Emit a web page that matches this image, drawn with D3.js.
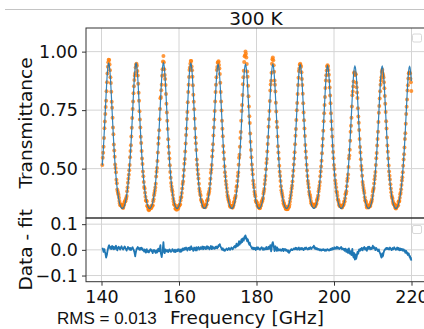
<!DOCTYPE html>
<html>
<head>
<meta charset="utf-8">
<script src="https://cdn.jsdelivr.net/npm/d3@7"></script>
<style>
  body { margin: 0; background: #fff; }
  text { font-family: "DejaVu Sans", sans-serif; fill: #111; }
  text.rms { font-family: "Liberation Sans", Arial, sans-serif; }
</style>
</head>
<body>
<div id="chart"></div>
<script>
'use strict';

// Measurement grid (uniform sweep)
const freqStart = 140.2055;
const freqStep = 0.1103;

// Fitted transmittance, one value per sample (one line per fringe)
const fit = [
  0.514,0.541,0.570,0.601,0.635,0.670,0.707,0.745,0.783,0.820,0.855,0.887,0.913,0.933,0.946,
  0.950,0.946,0.933,0.913,0.887,0.855,0.820,0.783,0.745,0.707,0.670,0.635,0.601,0.570,0.541,0.514,0.490,0.468,0.447,0.429,0.413,0.399,0.386,0.375,0.365,0.356,0.349,0.343,0.338,0.335,0.332,0.330,0.330,0.330,0.332,0.335,0.338,0.343,0.349,0.356,0.365,0.375,0.386,0.399,0.413,0.429,0.447,0.468,0.490,0.514,0.541,0.570,0.601,0.635,0.670,0.707,0.745,0.783,0.820,0.855,0.887,0.913,0.933,0.946,
  0.950,0.946,0.933,0.913,0.887,0.855,0.820,0.783,0.745,0.707,0.670,0.635,0.601,0.570,0.541,0.514,0.490,0.468,0.447,0.429,0.413,0.399,0.386,0.375,0.365,0.356,0.349,0.343,0.338,0.335,0.332,0.330,0.330,0.330,0.332,0.335,0.338,0.343,0.349,0.356,0.365,0.375,0.386,0.399,0.413,0.429,0.447,0.468,0.490,0.514,0.541,0.570,0.601,0.635,0.670,0.707,0.745,0.783,0.820,0.855,0.887,0.913,0.933,0.946,
  0.951,0.947,0.934,0.913,0.887,0.855,0.820,0.783,0.745,0.707,0.670,0.635,0.601,0.570,0.541,0.514,0.490,0.468,0.447,0.429,0.413,0.399,0.386,0.375,0.365,0.356,0.349,0.343,0.338,0.335,0.332,0.330,0.330,0.330,0.332,0.335,0.338,0.343,0.349,0.356,0.365,0.375,0.386,0.399,0.413,0.429,0.447,0.468,0.490,0.514,0.541,0.570,0.601,0.635,0.670,0.707,0.745,0.783,0.820,0.855,0.887,0.913,0.933,0.946,
  0.950,0.946,0.933,0.913,0.887,0.855,0.820,0.783,0.745,0.707,0.670,0.635,0.601,0.570,0.541,0.514,0.490,0.468,0.447,0.429,0.413,0.399,0.386,0.375,0.365,0.356,0.349,0.343,0.338,0.335,0.332,0.330,0.330,0.330,0.332,0.335,0.338,0.343,0.349,0.356,0.365,0.375,0.386,0.398,0.412,0.428,0.446,0.467,0.489,0.513,0.539,0.568,0.599,0.632,0.667,0.704,0.742,0.779,0.816,0.851,0.882,0.908,0.928,0.941,
  0.945,0.941,0.928,0.908,0.882,0.851,0.816,0.779,0.742,0.704,0.667,0.632,0.599,0.568,0.539,0.513,0.489,0.467,0.446,0.428,0.412,0.398,0.386,0.375,0.365,0.356,0.349,0.343,0.338,0.335,0.332,0.330,0.330,0.330,0.332,0.335,0.338,0.343,0.349,0.356,0.365,0.375,0.386,0.398,0.412,0.428,0.446,0.467,0.489,0.513,0.539,0.568,0.599,0.632,0.667,0.704,0.742,0.779,0.816,0.851,0.882,0.908,0.928,0.941,
  0.945,0.941,0.928,0.908,0.882,0.851,0.816,0.779,0.742,0.704,0.667,0.632,0.599,0.568,0.539,0.513,0.489,0.467,0.446,0.428,0.412,0.398,0.386,0.375,0.365,0.356,0.349,0.343,0.338,0.335,0.332,0.330,0.330,0.330,0.332,0.335,0.338,0.343,0.349,0.356,0.365,0.375,0.386,0.398,0.412,0.428,0.446,0.467,0.489,0.513,0.539,0.568,0.599,0.632,0.667,0.704,0.742,0.779,0.816,0.851,0.882,0.908,0.928,0.941,
  0.945,0.941,0.928,0.908,0.882,0.851,0.816,0.779,0.742,0.704,0.667,0.632,0.599,0.568,0.539,0.513,0.489,0.467,0.446,0.428,0.412,0.398,0.386,0.375,0.365,0.356,0.349,0.343,0.338,0.335,0.332,0.330,0.330,0.330,0.332,0.335,0.338,0.343,0.349,0.356,0.365,0.375,0.386,0.398,0.412,0.428,0.446,0.467,0.489,0.513,0.539,0.568,0.599,0.632,0.667,0.704,0.742,0.779,0.816,0.851,0.882,0.908,0.928,0.941,
  0.944,0.940,0.927,0.907,0.881,0.850,0.815,0.778,0.741,0.703,0.666,0.631,0.598,0.567,0.538,0.512,0.488,0.466,0.446,0.428,0.412,0.398,0.386,0.375,0.365,0.356,0.349,0.343,0.338,0.335,0.332,0.330,0.330,0.330,0.332,0.335,0.338,0.343,0.349,0.356,0.364,0.374,0.385,0.398,0.411,0.427,0.445,0.465,0.487,0.511,0.537,0.565,0.596,0.629,0.663,0.700,0.737,0.774,0.810,0.845,0.876,0.902,0.921,0.934,
  0.939,0.935,0.922,0.903,0.877,0.846,0.811,0.775,0.738,0.701,0.664,0.630,0.597,0.566,0.538,0.512,0.488,0.466,0.445,0.427,0.411,0.398,0.385,0.374,0.364,0.356,0.349,0.343,0.338,0.335,0.332,0.330,0.330,0.330,0.332,0.335,0.338,0.343,0.349,0.356,0.364,0.374,0.385,0.398,0.411,0.427,0.445,0.465,0.487,0.511,0.537,0.565,0.596,0.629,0.663,0.700,0.737,0.774,0.810,0.845,0.876,0.902,0.921,0.934,
  0.938,0.934,0.921,0.902,0.876,0.845,0.810,0.774,0.737,0.700,0.663,0.629,0.596,0.565,0.537,0.511,0.487,0.465,0.445,0.427,0.411,0.398,0.385,0.374,0.364,0.356,0.349,0.343,0.338,0.335,0.332,0.330,0.330,0.330,0.332,0.335,0.338,0.343,0.349,0.356,0.364,0.374,0.385,0.398,0.411,0.427,0.445,0.465,0.487,0.511,0.537,0.565,0.596,0.629,0.663,0.700,0.737,0.774,0.810,0.845,0.876,0.902,0.921,0.934,
  0.937,0.933,0.920,0.901,0.875,0.845,0.810,0.774,0.737,0.700,0.663,0.629,0.596,0.565,0.537,0.511,0.487,0.465,0.445,0.427,0.411,0.398,0.385,0.374,0.364,0.356,0.349,0.343,0.338,0.335,0.332,0.330,0.330,0.330,0.332,0.335,0.338,0.343,0.349,0.356,0.364,0.374,0.385,0.398,0.411,0.427,0.445,0.465,0.487,0.511,0.537,0.565,0.596,0.629,0.663,0.700,0.737,0.774,0.810,0.845,0.876,0.902,0.921,0.933,
  0.936,0.932,0.919,0.900,0.874
];

// Data - fit
const resid = [
  .002,
  .005,-.002,-.008,-.004,.003,-.006,-.012,-.020,-.030,-.024,-.018,-.006,.002,.009,.015,.018,.012,.007,.004,.011,
  .009,.003,.015,.010,.006,.012,.002,.008,.010,.004,.013,.016,.005,.009,-.002,.003,.008,.012,.011,.006,
  .003,.001,.007,.010,.014,.008,.006,.003,.001,.007,.009,.013,.012,.005,.004,0,-.003,.004,.006,.011,
  .010,.006,.003,.001,.008,.005,-.001,.002,.005,.009,.010,.004,.002,-.003,-.008,-.016,-.025,-.014,-.006,.002,
  .007,.004,.011,.008,.004,.007,0,.003,.006,.001,.009,.005,.002,.006,-.002,-.001,-.004,-.007,.002,-.002,
  -.006,-.011,-.001,.003,-.008,-.004,-.003,-.009,-.010,-.005,-.002,.001,.003,-.003,-.005,-.001,-.009,-.013,-.004,-.006,
  0,-.003,-.007,-.010,-.012,-.002,-.003,-.011,-.008,-.001,.005,-.004,-.006,.004,.010,.018,-.014,-.020,-.028,-.016,
  -.008,.012,.030,.008,-.009,-.013,-.004,.002,-.001,-.006,-.005,-.002,-.001,-.009,-.007,-.003,.002,0,-.004,-.007,
  -.008,-.005,-.002,.003,.001,-.004,-.006,-.008,-.003,.001,-.009,-.005,-.002,-.006,0,.002,-.005,-.002,.003,-.001,
  -.004,-.008,-.001,.002,-.007,-.003,.002,.005,-.002,.001,.004,.007,0,.003,.006,.009,.002,.005,-.003,.001,
  .008,.004,.005,.009,-.001,.002,.010,.014,.003,.007,.006,.001,-.004,.003,.009,.006,.002,-.002,.007,.010,
  -.002,.003,.005,.008,.011,.006,.001,.004,.006,.010,.003,.007,.009,.013,.005,.002,.012,.008,.007,.011,
  .003,.006,.010,.004,.014,.009,.006,.012,.008,.004,.002,.007,.011,.015,.007,.003,.013,.009,.005,.010,
  .009,.006,.004,.008,.012,.007,.008,.013,.006,.011,.010,.018,.015,.020,.022,.016,.012,.008,.006,.001,
  .003,.006,-.002,.002,.002,-.003,-.004,0,.001,.004,.005,.002,-.001,.003,.003,.007,.006,.002,0,.005,
  .004,.009,.008,.004,.002,.006,.007,.012,.010,.015,.012,.009,.018,.024,.014,.019,.022,.016,.028,.034,
  .020,.026,.032,.025,.038,.042,.030,.036,.045,.040,.036,.048,.052,.044,.056,.050,.047,.039,.033,.042,
  .038,.030,.024,.020,.028,.018,.016,.012,.010,.005,.006,.009,.002,.005,.008,.003,.004,.007,-.001,.002,
  .007,.010,.003,.006,.009,.004,.005,.001,0,.004,.006,.009,.010,.005,.003,0,.007,.004,.001,.006,
  .005,.002,.008,.011,.002,.005,.006,.003,.012,.007,.004,.010,.018,.009,-.006,.002,.020,.026,.030,.022,
  .014,.006,-.005,.008,.014,.003,.002,-.004,.010,.005,-.003,.001,.003,-.001,-.002,.002,.001,-.003,-.004,0,
  .002,.004,-.001,-.005,.004,.001,0,.003,-.003,-.001,.001,-.004,-.005,-.008,-.002,-.007,-.012,-.009,-.006,-.002,
  0,.002,.003,-.001,-.001,.001,.002,.005,.004,.002,.005,.008,.002,.004,.007,.001,.003,.006,.006,.009,
  0,.003,.004,.002,.008,.005,.002,.007,.005,.001,-.001,.004,.006,.008,.003,.006,.009,.005,.004,.002,
  .001,.006,.007,.003,.005,.009,.010,.006,.003,.007,.008,.010,.012,.009,.016,.011,.006,.004,.009,.005,
  .002,.007,.005,.001,0,.004,.003,0,-.002,.002,.001,-.002,-.003,.001,.002,-.001,-.001,.003,0,-.002,
  -.004,0,.001,-.003,-.002,.002,.003,.001,0,-.002,-.003,.001,.002,.004,-.001,.002,.004,.007,.001,.005,
  .006,.003,.010,.007,.004,.008,.009,.005,.012,.010,.005,.009,.008,.004,.003,.006,.007,.010,.011,.005,
  .002,.006,.006,.002,0,.004,-.004,-.001,.005,-.003,-.008,-.002,.002,-.006,-.012,-.004,.006,-.009,-.015,-.010,
  -.005,-.017,-.020,-.008,.004,-.015,-.025,-.030,-.012,-.022,-.038,-.032,-.018,-.035,-.028,-.020,-.008,-.016,-.014,-.004,
  .002,-.002,-.004,.004,.003,0,.008,.005,-.002,.003,.006,.009,.011,.004,.001,.006,.007,.002,-.004,.003,
  .009,.012,.004,.008,.012,.006,.002,.007,.008,.003,.005,.010,.016,.012,.006,.009,.010,.004,-.001,.005,
  .007,.002,.003,-.002,-.005,-.001,.002,-.006,-.010,-.014,-.018,-.025,-.030,-.020,-.014,-.026,-.022,-.012,-.006,-.002,
  0,.003,.005,.002,.008,.004,.003,.007,.006,.002,.001,.005,.009,.006,.004,.001,-.001,.003,.007,.004,
  .002,.006,.010,.007,.005,.002,0,.004,.006,.009,.003,.001,.008,.005,-.002,.002,.005,-.001,.001,.003,
  .004,-.002,-.003,.001,.002,-.004,-.006,-.002,-.012,-.008,-.004,-.010,-.015,-.011,-.020,-.017,-.014,-.022,-.028,-.024,-.035,-.031,
  -.042
];

const xTicks = [140, 160, 180, 200, 220];
const yTicksTop = [0.50, 0.75, 1.00];
const yTicksBottom = [-0.1, 0.0, 0.1];
const title = "300 K";
const rmsText = "RMS = 0.013";

class FitPlot {
  constructor (el) {
    this.w = 424;
    this.h = 329;
    this.left = 86;
    this.right = 432;
    this.top = 28;
    this.mid = 218;
    this.bottom = 281.7;
    this.el = el;
  }

  render () {
    this.svg = d3.select("#" + this.el)
      .append("svg")
      .attr("width", this.w)
      .attr("height", this.h)
      .style("display", "block");

    const n = Math.min(fit.length, resid.length);
    this.points = d3.range(n).map((i) => ({
      f: freqStart + i * freqStep,
      fit: fit[i],
      res: resid[i],
      data: fit[i] + resid[i]
    }));

    this.computeScaleFns();
    this.addFrameLine();
    this.addGrid();
    this.addTop();
    this.addBottom();
    this.addAxes();
    this.addLabels();
  }

  computeScaleFns () {
    this.xScale = d3.scaleLinear().domain([140, 220]).range([101.5, 411.5]);
    this.yTop = d3.scaleLinear().domain([0.289, 1.101]).range([this.mid, this.top]);
    this.yBot = d3.scaleLinear().domain([-0.124, 0.124]).range([this.bottom, this.mid]);
  }

  addFrameLine () {
    // faint rule above the title
    this.svg.append("line")
      .attr("x1", 5).attr("x2", this.w)
      .attr("y1", 9.5).attr("y2", 9.5)
      .style("stroke", "#c4c4c4")
      .style("stroke-width", 1);

    const defs = this.svg.append("defs");
    defs.append("clipPath").attr("id", "clipTop")
      .append("rect")
      .attr("x", this.left).attr("y", this.top)
      .attr("width", this.right - this.left).attr("height", this.mid - this.top);
    defs.append("clipPath").attr("id", "clipBot")
      .append("rect")
      .attr("x", this.left).attr("y", this.mid)
      .attr("width", this.right - this.left).attr("height", this.bottom - this.mid);
  }

  addGrid () {
    const g = this.svg.append("g").attr("class", "grid")
      .style("stroke", "#d4d4d4").style("stroke-width", 1);

    g.selectAll(".vTop").data(xTicks).enter().append("line")
      .attr("x1", (d) => this.xScale(d)).attr("x2", (d) => this.xScale(d))
      .attr("y1", this.top).attr("y2", this.mid);
    g.selectAll(".vBot").data(xTicks).enter().append("line")
      .attr("x1", (d) => this.xScale(d)).attr("x2", (d) => this.xScale(d))
      .attr("y1", this.mid).attr("y2", this.bottom);
    g.selectAll(".hTop").data(yTicksTop).enter().append("line")
      .attr("x1", this.left).attr("x2", this.right)
      .attr("y1", (d) => this.yTop(d)).attr("y2", (d) => this.yTop(d));
    g.selectAll(".hBot").data(yTicksBottom).enter().append("line")
      .attr("x1", this.left).attr("x2", this.right)
      .attr("y1", (d) => this.yBot(d)).attr("y2", (d) => this.yBot(d));
  }

  addTop () {
    const g = this.svg.append("g").attr("clip-path", "url(#clipTop)");

    // measured points first, the fit runs through them
    g.selectAll(".dot").data(this.points).enter().append("circle")
      .attr("class", "dot")
      .attr("cx", (d) => this.xScale(d.f))
      .attr("cy", (d) => this.yTop(d.data))
      .attr("r", 2)
      .style("fill", "#ff7f0e")
      .style("opacity", 0.8);

    const line = d3.line()
      .x((d) => this.xScale(d.f))
      .y((d) => this.yTop(d.fit));

    g.append("path")
      .datum(this.points)
      .attr("d", line)
      .style("fill", "none")
      .style("stroke", "#1f77b4")
      .style("stroke-width", 1.2)
      .style("opacity", 0.9);

    // empty legend box
    this.svg.append("rect")
      .attr("x", 412.5).attr("y", 34).attr("width", 9).attr("height", 8).attr("rx", 1.5)
      .style("fill", "#fff").style("stroke", "#d8d8d8");
  }

  addBottom () {
    const g = this.svg.append("g").attr("clip-path", "url(#clipBot)");

    const line = d3.line()
      .x((d) => this.xScale(d.f))
      .y((d) => this.yBot(d.res));

    g.append("path")
      .datum(this.points)
      .attr("d", line)
      .style("fill", "none")
      .style("stroke", "#1f77b4")
      .style("stroke-width", 1.8)
      .style("stroke-linejoin", "round");

    this.svg.append("rect")
      .attr("x", 412.5).attr("y", 225.5).attr("width", 9).attr("height", 8).attr("rx", 1.5)
      .style("fill", "#fff").style("stroke", "#d8d8d8");
  }

  addAxes () {
    const spine = { stroke: "#333", width: 1 };

    // frames (right side falls outside the picture)
    [[this.top, this.mid], [this.mid, this.bottom]].forEach(([y0, y1]) => {
      this.svg.append("rect")
        .attr("x", this.left).attr("y", y0)
        .attr("width", this.right - this.left).attr("height", y1 - y0)
        .style("fill", "none")
        .style("stroke", spine.stroke)
        .style("stroke-width", spine.width);
    });

    const fmtTop = d3.format(".2f");
    const fmtBot = d3.format(".1f");

    const yAxisTop = this.svg.append("g")
      .attr("transform", `translate(${this.left},0)`)
      .call(d3.axisLeft(this.yTop).tickValues(yTicksTop).tickFormat(fmtTop).tickSize(4).tickPadding(4));
    const yAxisBot = this.svg.append("g")
      .attr("transform", `translate(${this.left},0)`)
      .call(d3.axisLeft(this.yBot).tickValues(yTicksBottom).tickFormat(fmtBot).tickSize(4).tickPadding(4));
    const xAxis = this.svg.append("g")
      .attr("transform", `translate(0,${this.bottom})`)
      .call(d3.axisBottom(this.xScale).tickValues(xTicks).tickFormat(d3.format("d")).tickSize(4).tickPadding(5));

    [yAxisTop, yAxisBot, xAxis].forEach((ax) => {
      ax.select(".domain").remove();
      ax.selectAll(".tick line").style("stroke", spine.stroke);
      ax.selectAll(".tick text")
        .style("font-family", "'DejaVu Sans', sans-serif")
        .style("font-size", "17.5px")
        .style("fill", "#111");
    });
  }

  addLabels () {
    this.svg.append("text")
      .attr("x", 256).attr("y", 25)
      .attr("text-anchor", "middle")
      .style("font-size", "18.5px")
      .text(title);

    this.svg.append("text")
      .attr("transform", `translate(32,${(this.top + this.mid) / 2}) rotate(-90)`)
      .attr("text-anchor", "middle")
      .style("font-size", "18.5px")
      .text("Transmittance");

    this.svg.append("text")
      .attr("transform", `translate(32,${(this.mid + this.bottom) / 2}) rotate(-90)`)
      .attr("text-anchor", "middle")
      .style("font-size", "18.5px")
      .text("Data - fit");

    this.svg.append("text")
      .attr("x", 170).attr("y", 324)
      .style("font-size", "18.5px")
      .text("Frequency [GHz]");

    this.svg.append("text")
      .attr("class", "rms")
      .attr("x", 57).attr("y", 324)
      .style("font-size", "17px")
      .text(rmsText);
  }
}

new FitPlot("chart").render();
</script>
</body>
</html>
